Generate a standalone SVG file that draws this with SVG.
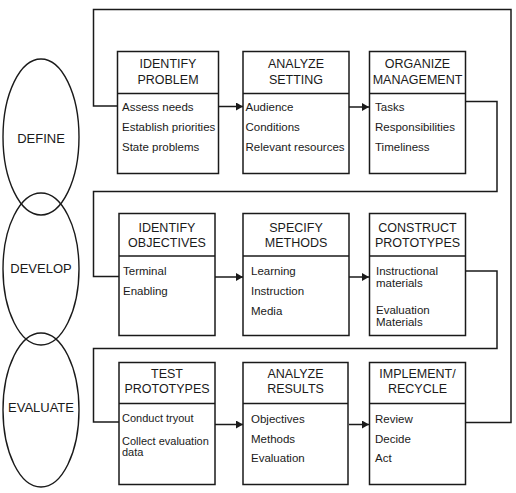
<svg xmlns="http://www.w3.org/2000/svg" width="516" height="493" viewBox="0 0 516 493">
<defs>
<marker id="arr" markerWidth="8" markerHeight="8" refX="7" refY="4" orient="auto" markerUnits="userSpaceOnUse">
<path d="M0,0 L7,4 L0,8 Z" fill="#1a1a1a"/>
</marker>
<style>
.box{fill:#fff;stroke:#1a1a1a;stroke-width:1.5}
.ln{fill:none;stroke:#1a1a1a;stroke-width:1.5}
.ell{fill:none;stroke:#1a1a1a;stroke-width:1.4}
text{font-family:"Liberation Sans",Arial,sans-serif;fill:#1a1a1a}
.h{font-size:12.5px;text-anchor:middle}
.b{font-size:11.5px}
.s{font-size:11px}
.e{font-size:13px;text-anchor:middle}
</style>
</defs>
<rect width="516" height="493" fill="#fff"/>

<g id="phases">
<g id="define"><ellipse class="ell" cx="41" cy="137" rx="38" ry="78"/><text class="e" x="41" y="143">DEFINE</text></g>
<g id="develop"><ellipse class="ell" cx="41" cy="269" rx="38" ry="76"/><text class="e" x="41" y="273">DEVELOP</text></g>
<g id="evaluate"><ellipse class="ell" cx="41" cy="410" rx="38" ry="77"/><text class="e" x="41" y="412">EVALUATE</text></g>
</g>

<g id="connectors">
<path class="ln" d="M465,422.5 H511 V9.5 H93.5 V106 H118"/>
<path class="ln" d="M465,101.5 H497 V191.5 H93.5 V276.5 H119"/>
<path class="ln" d="M465,271 H497 V348.5 H93.5 V422 H119"/>
<path class="ln" d="M218,106.5 H243" marker-end="url(#arr)"/>
<path class="ln" d="M349,107 H369" marker-end="url(#arr)"/>
<path class="ln" d="M215,277 H243" marker-end="url(#arr)"/>
<path class="ln" d="M349,277 H369" marker-end="url(#arr)"/>
<path class="ln" d="M215,424.5 H243" marker-end="url(#arr)"/>
<path class="ln" d="M349,424.5 H369" marker-end="url(#arr)"/>
</g>

<g id="identify-problem">
<rect class="box" x="117.5" y="51.5" width="101" height="122"/>
<line class="ln" x1="117.5" y1="93.5" x2="218.5" y2="93.5"/>
<text class="h" x="168" y="68">IDENTIFY</text><text class="h" x="168" y="84">PROBLEM</text>
<text class="b" x="122" y="111">Assess needs</text>
<text class="b" x="122" y="131">Establish priorities</text>
<text class="b" x="122" y="151">State problems</text>
</g>
<g id="analyze-setting">
<rect class="box" x="243" y="51.5" width="106" height="122"/>
<line class="ln" x1="243" y1="93.5" x2="349" y2="93.5"/>
<text class="h" x="296" y="68">ANALYZE</text><text class="h" x="296" y="84">SETTING</text>
<text class="b" x="245.5" y="111">Audience</text>
<text class="b" x="245.5" y="131">Conditions</text>
<text class="b" x="245.5" y="151">Relevant resources</text>
</g>
<g id="organize-management">
<rect class="box" x="369.5" y="51.5" width="96" height="122"/>
<line class="ln" x1="369.5" y1="93.5" x2="465.5" y2="93.5"/>
<text class="h" x="417.5" y="68">ORGANIZE</text><text class="h" x="417.5" y="84">MANAGEMENT</text>
<text class="b" x="375" y="111">Tasks</text>
<text class="b" x="375" y="131">Responsibilities</text>
<text class="b" x="375" y="151">Timeliness</text>
</g>

<g id="identify-objectives">
<rect class="box" x="119" y="213.5" width="96" height="122"/>
<line class="ln" x1="119" y1="256" x2="215" y2="256"/>
<text class="h" x="167" y="232">IDENTIFY</text><text class="h" x="167" y="247">OBJECTIVES</text>
<text class="b" x="123" y="275">Terminal</text>
<text class="b" x="123" y="295">Enabling</text>
</g>
<g id="specify-methods">
<rect class="box" x="243" y="213.5" width="106" height="122"/>
<line class="ln" x1="243" y1="256" x2="349" y2="256"/>
<text class="h" x="296" y="232">SPECIFY</text><text class="h" x="296" y="247">METHODS</text>
<text class="b" x="251" y="275">Learning</text>
<text class="b" x="251" y="295">Instruction</text>
<text class="b" x="251" y="315">Media</text>
</g>
<g id="construct-prototypes">
<rect class="box" x="369.5" y="213.5" width="96" height="122"/>
<line class="ln" x1="369.5" y1="256" x2="465.5" y2="256"/>
<text class="h" x="417.5" y="232">CONSTRUCT</text><text class="h" x="417.5" y="247">PROTOTYPES</text>
<text class="b" x="376" y="275">Instructional</text>
<text class="b" x="376" y="287">materials</text>
<text class="b" x="376" y="314">Evaluation</text>
<text class="b" x="376" y="326">Materials</text>
</g>

<g id="test-prototypes">
<rect class="box" x="119" y="362.5" width="96" height="122"/>
<line class="ln" x1="119" y1="403.5" x2="215" y2="403.5"/>
<text class="h" x="167" y="378">TEST</text><text class="h" x="167" y="393">PROTOTYPES</text>
<text class="s" x="122" y="422">Conduct tryout</text>
<text class="s" x="122" y="445">Collect evaluation</text>
<text class="s" x="122" y="456">data</text>
</g>
<g id="analyze-results">
<rect class="box" x="243" y="362.5" width="105" height="122"/>
<line class="ln" x1="243" y1="403.5" x2="348" y2="403.5"/>
<text class="h" x="295.5" y="378">ANALYZE</text><text class="h" x="295.5" y="393">RESULTS</text>
<text class="b" x="251" y="423">Objectives</text>
<text class="b" x="251" y="443">Methods</text>
<text class="b" x="251" y="462">Evaluation</text>
</g>
<g id="implement-recycle">
<rect class="box" x="369.5" y="362.5" width="96" height="122"/>
<line class="ln" x1="369.5" y1="403.5" x2="465.5" y2="403.5"/>
<text class="h" x="417.5" y="378">IMPLEMENT/</text><text class="h" x="417.5" y="393">RECYCLE</text>
<text class="b" x="375" y="423">Review</text>
<text class="b" x="375" y="443">Decide</text>
<text class="b" x="375" y="462">Act</text>
</g>
</svg>
